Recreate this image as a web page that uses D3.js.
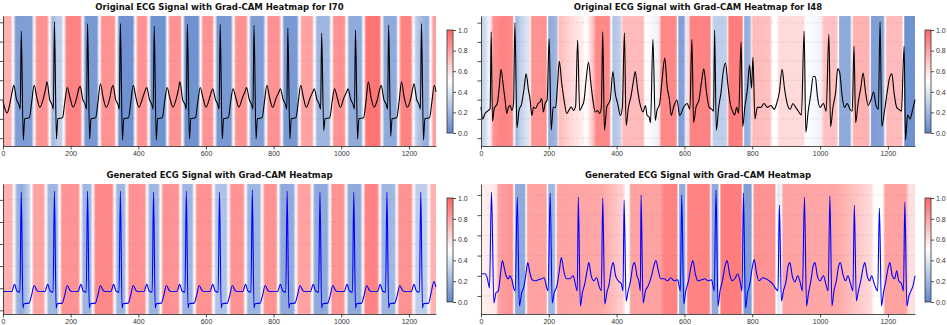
<!DOCTYPE html>
<html>
<head>
<meta charset="utf-8">
<script src="https://cdnjs.cloudflare.com/ajax/libs/d3/7.8.5/d3.min.js"></script>
<style>
body{margin:0;background:#fff;}
svg{display:block;font-family:"DejaVu Sans",sans-serif;}
.axis text{font-size:7px;fill:#333;}
.title{font-size:8.5px;font-weight:bold;fill:#111;}
</style>
</head>
<body>
<div id="chart"></div>
<script>
// titles and ticks
var titles = ['Original ECG Signal with Grad-CAM Heatmap for I70',
              'Original ECG Signal with Grad-CAM Heatmap for I48',
              'Generated ECG Signal with Grad-CAM Heatmap',
              'Generated ECG Signal with Grad-CAM Heatmap'];
var xTicks = [0,200,400,600,800,1000,1200];
var cbarTicks = [0,0.2,0.4,0.6,0.8,1.0];
var nSamples = 1280;

// ECG I70 original, [sample, mV]
var ecgI70 = [[0,-0.53],[6,-0.75],[12,-0.85],[20,-0.62],[27,-0.3],[32,-0.13],[40,-0.5],[47,-0.63],[51,-0.75],
[54,1.27],[60,-1.55],[64,-1.0],[78,-0.97],[85,-0.55],[92,-0.13],[100,-0.45],[109,-0.7],[120,-0.45],[126,-0.22],[130,-0.04],[138,-0.5],[145,-0.63],[149,-0.75],
[152,1.51],[158,-1.52],[162,-1.0],[176,-0.97],[183,-0.55],[190,-0.19],[198,-0.45],[207,-0.7],[218,-0.45],[224,-0.22],[228,-0.16],[236,-0.5],[243,-0.63],[247,-0.75],
[250,1.47],[256,-1.52],[260,-1.0],[274,-0.97],[281,-0.55],[288,-0.09],[296,-0.45],[305,-0.7],[316,-0.45],[321,-0.22],[325,-0.13],[333,-0.5],[340,-0.63],[344,-0.75],
[347,1.47],[353,-1.55],[357,-1.0],[371,-0.97],[378,-0.55],[385,-0.13],[393,-0.45],[402,-0.7],[413,-0.45],[421,-0.25],[425,-0.19],[433,-0.5],[440,-0.63],[444,-0.75],
[447,1.40],[453,-1.55],[457,-1.0],[471,-0.97],[478,-0.55],[485,-0.19],[493,-0.45],[502,-0.7],[513,-0.45],[519,-0.22],[523,-0.04],[531,-0.5],[538,-0.63],[542,-0.75],
[545,1.45],[551,-1.52],[555,-1.0],[569,-0.97],[576,-0.55],[583,-0.19],[591,-0.45],[600,-0.7],[611,-0.45],[616,-0.3],[620,-0.22],[628,-0.5],[635,-0.63],[639,-0.75],
[642,1.45],[648,-1.52],[652,-1.0],[666,-0.97],[673,-0.55],[680,-0.22],[688,-0.45],[697,-0.7],[708,-0.45],[716,-0.28],[720,-0.19],[728,-0.5],[735,-0.63],[739,-0.75],
[742,1.43],[748,-1.52],[752,-1.0],[766,-0.97],[773,-0.55],[780,-0.13],[788,-0.45],[797,-0.7],[808,-0.45],[816,-0.3],[820,-0.22],[828,-0.5],[835,-0.63],[839,-0.75],
[842,1.36],[848,-1.52],[852,-1.0],[866,-0.97],[873,-0.55],[880,-0.13],[888,-0.45],[897,-0.7],[908,-0.45],[916,-0.3],[920,-0.22],[928,-0.5],[935,-0.63],[939,-0.75],
[942,1.22],[948,-1.3],[952,-1.0],[966,-0.97],[973,-0.55],[980,-0.22],[988,-0.45],[997,-0.7],[1008,-0.45],[1016,-0.3],[1020,-0.22],[1028,-0.5],[1035,-0.63],[1039,-0.75],
[1042,1.30],[1048,-1.52],[1052,-1.0],[1066,-0.97],[1073,-0.55],[1080,-0.04],[1088,-0.45],[1097,-0.7],[1108,-0.45],[1114,-0.22],[1118,-0.13],[1126,-0.5],[1133,-0.63],[1137,-0.75],
[1140,1.43],[1146,-1.45],[1150,-1.0],[1164,-0.97],[1171,-0.55],[1178,-0.04],[1186,-0.45],[1195,-0.7],[1206,-0.45],[1211,-0.22],[1215,-0.09],[1223,-0.5],[1230,-0.63],[1234,-0.75],
[1237,1.47],[1243,-1.55],[1247,-1.0],[1261,-0.97],[1268,-0.55],[1275,-0.13],[1280,-0.3]];

// ECG I48 original
var ecgI48 = [[0,-0.69],[5,-1.0],[12,-0.86],[22,-0.78],[27,-0.73],[30,1.26],[34,-1.06],[39,-0.73],[48,-0.6],[54,-0.16],[59,0.29],[66,-0.16],[71,-0.51],[76,-0.86],[81,-0.69],[86,-0.65],[91,-0.78],[96,-0.6],
[100,1.5],[106,-1.23],[112,-0.78],[120,-0.6],[127,-0.21],[133,0.17],[140,-0.25],[145,-0.51],[150,-0.91],[155,-0.69],[161,-0.73],[168,-0.6],[174,-0.56],[179,-0.47],[184,-0.82],[189,-0.6],[195,-0.51],
[201,1.08],[207,-1.29],[213,-0.69],[220,-0.71],[226,-0.07],[231,0.5],[238,-0.07],[245,-0.51],[253,-0.86],[259,-0.78],[266,-0.69],[273,-0.78],[279,-0.67],
[285,1.05],[291,-0.78],[297,-0.69],[304,-0.51],[310,0.01],[317,0.47],[324,-0.07],[330,-0.51],[337,-0.82],[344,-0.78],[350,-0.86],[355,-0.69],
[359,1.27],[364,-1.3],[371,-0.69],[381,-0.51],[389,0.23],[396,-0.34],[403,-0.6],[411,-0.91],[417,-0.69],
[423,1.24],[428,-1.17],[435,-0.69],[442,-0.43],[450,0.01],[455,0.23],[462,-0.25],[470,-0.65],[478,-0.82],[485,-0.65],[490,-0.91],[496,-0.95],[500,-1.1],
[507,1.07],[514,-1.04],[519,-0.78],[527,-0.6],[534,0.01],[542,0.58],[549,-0.16],[556,-0.51],[561,-0.91],[568,-0.69],[578,-0.51],[586,-0.91],[598,-0.69],[608,-0.6],[616,-0.75],
[622,1.07],[627,-1.1],[634,-0.7],[643,-0.5],[651,0.0],[657,0.3],[665,-0.3],[673,-0.7],[681,-0.75],[686,-0.8],
[689,1.31],[694,-1.3],[701,-0.7],[708,-0.3],[714,0.2],[721,0.45],[728,-0.1],[735,-0.6],[742,-0.8],[748,-0.9],[754,-0.7],[760,-0.85],
[767,1.0],[772,-1.2],[778,-0.7],[786,-0.2],[792,0.4],[798,-0.2],[802,0.6],[808,-1.0],[815,-0.7],[825,-0.7],[835,-0.6],[845,-0.7],[855,-0.65],[865,-0.75],[872,-0.6],[880,-0.3],[888,0.29],[895,-0.2],[903,-0.6],[912,-0.75],[920,-0.6],[928,-0.7],[936,-0.8],[945,-0.9],
[953,1.28],[958,-1.35],[965,-0.8],[972,-0.4],[980,0.1],[986,0.1],[992,-0.4],[1000,-0.7],[1010,-0.6],[1018,-0.8],
[1026,1.2],[1031,-1.2],[1038,-0.7],[1046,-0.3],[1052,0.3],[1058,0.2],[1065,-0.4],[1072,-0.7],[1080,-0.6],[1088,-0.75],[1095,-0.8],
[1100,0.89],[1105,-1.1],[1112,-0.6],[1120,-0.2],[1127,0.19],[1134,-0.3],[1142,-0.65],[1150,-0.5],[1158,-0.3],[1164,-0.6],[1172,-0.75],
[1177,1.52],[1182,-1.2],[1190,-0.8],[1198,-0.3],[1206,0.1],[1212,0.17],[1218,-0.3],[1226,-0.7],[1232,-0.75],[1240,-0.8],
[1248,0.89],[1252,-1.55],[1258,-0.9],[1266,-1.0],[1272,-0.8],[1280,-0.5]];

// generated ECG (left), normalised
var genI70 = [[0,0.17],[26,0.17],[34,0.235],[41,0.175],[50,0.165],
[54,1.07],[59,0.02],[62,0.06],[77,0.065],[84,0.13],[92,0.225],[100,0.18],[106,0.17],[124,0.17],[132,0.235],[139,0.175],[148,0.165],
[152,1.08],[157,0.02],[160,0.06],[175,0.065],[182,0.13],[190,0.225],[198,0.18],[204,0.17],[222,0.17],[230,0.235],[237,0.175],[246,0.165],
[250,1.08],[255,0.02],[258,0.06],[273,0.065],[280,0.13],[288,0.225],[296,0.18],[302,0.17],[319,0.17],[327,0.235],[334,0.175],[343,0.165],
[347,1.08],[352,0.02],[355,0.06],[370,0.065],[377,0.13],[385,0.225],[393,0.18],[399,0.17],[417,0.17],[425,0.235],[432,0.175],[441,0.165],
[445,1.07],[450,0.02],[453,0.06],[468,0.065],[475,0.13],[483,0.225],[491,0.18],[497,0.17],[514,0.17],[522,0.235],[529,0.175],[538,0.165],
[542,1.08],[547,0.02],[550,0.06],[565,0.065],[572,0.13],[580,0.225],[588,0.18],[594,0.17],[612,0.17],[620,0.235],[627,0.175],[636,0.165],
[640,1.07],[645,0.02],[648,0.06],[663,0.065],[670,0.13],[678,0.225],[686,0.18],[692,0.17],[709,0.17],[717,0.235],[724,0.175],[733,0.165],
[737,1.09],[742,0.02],[745,0.06],[760,0.065],[767,0.13],[775,0.225],[783,0.18],[789,0.17],[812,0.17],[820,0.235],[827,0.175],[836,0.165],
[840,1.08],[845,0.02],[848,0.06],[863,0.065],[870,0.13],[878,0.225],[886,0.18],[892,0.17],[909,0.17],[917,0.235],[924,0.175],[933,0.165],
[937,1.07],[942,0.02],[945,0.06],[960,0.065],[967,0.13],[975,0.225],[983,0.18],[989,0.17],[1009,0.17],[1017,0.235],[1024,0.175],[1033,0.165],
[1037,1.07],[1042,0.02],[1045,0.06],[1060,0.065],[1067,0.13],[1075,0.225],[1083,0.18],[1089,0.17],[1107,0.17],[1115,0.235],[1122,0.175],[1131,0.165],
[1135,1.07],[1140,0.02],[1143,0.06],[1158,0.065],[1165,0.13],[1173,0.225],[1181,0.18],[1187,0.17],[1207,0.17],[1215,0.235],[1222,0.175],[1231,0.165],
[1235,1.07],[1240,0.02],[1243,0.06],[1258,0.065],[1265,0.15],[1274,0.26],[1280,0.21]];

// generated ECG (right)
var genI48 = [[0,0.22],[12,0.22],[19,0.17],[25,0.08],[31,1.03],[38,-0.07],[44,0.03],[51,0.05],[58,0.23],[63,0.35],[69,0.27],[74,0.2],[81,0.17],[85,0.2],[92,0.15],[97,0.07],[101,0.05],
[107,0.98],[113,-0.1],[120,0.03],[127,0.1],[133,0.23],[138,0.33],[144,0.23],[151,0.16],[159,0.15],[169,0.16],[179,0.17],[186,0.18],[194,0.08],[198,0.05],
[204,1.02],[210,-0.07],[216,0.03],[224,0.1],[231,0.25],[237,0.38],[244,0.25],[252,0.17],[262,0.17],[272,0.2],[278,0.12],[284,0.05],
[287,0.98],[293,-0.1],[299,0.03],[306,0.12],[313,0.25],[318,0.33],[325,0.2],[333,0.15],[341,0.18],[348,0.1],[355,0.05],
[359,0.97],[365,-0.08],[371,0.03],[378,0.12],[385,0.28],[390,0.33],[397,0.2],[405,0.15],[414,0.12],[419,0.05],
[422,0.95],[428,-0.05],[434,0.05],[441,0.15],[448,0.3],[453,0.33],[460,0.2],[466,0.14],[470,0.05],
[472,1.0],[478,-0.07],[485,0.05],[493,0.1],[503,0.2],[510,0.3],[516,0.35],[523,0.25],[530,0.17],[540,0.17],[550,0.15],[560,0.18],[570,0.15],[580,0.16],[588,0.05],
[592,1.0],[598,-0.08],[604,0.05],[612,0.15],[620,0.3],[625,0.35],[632,0.22],[640,0.15],[650,0.16],[660,0.17],[670,0.15],[680,0.16],[688,0.05],
[693,1.05],[699,-0.1],[705,0.05],[712,0.15],[720,0.3],[726,0.35],[733,0.22],[741,0.15],[750,0.18],[757,0.22],[764,0.15],[770,0.05],
[774,1.02],[780,-0.12],[786,0.03],[793,0.12],[800,0.28],[806,0.36],[813,0.22],[820,0.15],[830,0.18],[840,0.17],[850,0.15],[860,0.12],[868,0.08],[876,0.05],
[880,0.9],[886,-0.05],[892,0.05],[900,0.15],[906,0.3],[911,0.33],[918,0.2],[926,0.14],[934,0.2],[941,0.14],[948,0.05],
[954,0.98],[960,-0.1],[966,0.03],[973,0.15],[980,0.3],[985,0.33],[992,0.2],[1000,0.15],[1010,0.2],[1017,0.12],[1024,0.05],
[1029,0.99],[1035,-0.1],[1041,0.05],[1048,0.15],[1055,0.3],[1060,0.33],[1067,0.22],[1075,0.15],[1082,0.2],[1090,0.12],[1097,0.05],
[1101,0.9],[1107,-0.05],[1113,0.05],[1120,0.15],[1127,0.28],[1132,0.33],[1139,0.2],[1146,0.15],[1152,0.2],[1160,0.12],[1170,0.05],
[1175,0.87],[1181,-0.1],[1187,0.03],[1194,0.15],[1201,0.28],[1206,0.33],[1213,0.2],[1220,0.17],[1226,0.25],[1232,0.15],[1240,0.12],[1246,0.05],
[1250,0.93],[1256,-0.1],[1262,0.0],[1268,0.05],[1274,0.1],[1280,0.2]];

// Grad-CAM heat, [sample, value] gradient stops
var heatI70 = [[0,0.75],[22,0.75],[30,0.5],[38,0.1],[84,0.1],[92,0.5],[100,0.85],[130,0.85],[138,0.5],[146,0.2],[160,0.3],[172,0.3],[180,0.5],[188,0.9],[228,0.9],[236,0.5],[244,0.08],[277,0.08],[285,0.5],[293,0.85],[328,0.85],[336,0.5],[344,0.05],[383,0.05],[391,0.5],[399,0.85],[423,0.85],[431,0.5],[439,0.05],[478,0.05],[486,0.5],[494,0.85],[523,0.85],[531,0.5],[539,0.05],[576,0.05],[584,0.5],[592,0.85],[618,0.85],[626,0.5],[634,0.08],[673,0.08],[681,0.5],[689,0.85],[718,0.85],[726,0.5],[734,0.1],[769,0.1],[777,0.5],[785,0.85],[816,0.85],[824,0.5],[832,0.08],[868,0.08],[876,0.5],[884,0.8],[913,0.8],[921,0.5],[929,0.2],[963,0.2],[971,0.5],[979,0.85],[1008,0.85],[1016,0.5],[1024,0.15],[1058,0.15],[1066,0.5],[1074,0.95],[1112,0.95],[1120,0.5],[1128,0.15],[1161,0.15],[1169,0.5],[1177,0.9],[1205,0.9],[1213,0.5],[1221,0.3],[1240,0.2],[1256,0.15],[1264,0.5],[1272,0.8],[1280,0.8]];

var heatI48 = [[0,0.3],[12,0.35],[22,0.45],[30,0.6],[36,0.85],[60,0.9],[92,0.88],[98,0.5],[104,0.2],[115,0.3],[140,0.4],[146,0.6],[150,0.85],[192,0.85],[196,0.5],[200,0.15],[222,0.2],[228,0.6],[232,0.72],[255,0.65],[300,0.55],[312,0.5],[330,0.7],[340,0.88],[378,0.88],[384,0.5],[390,0.25],[410,0.3],[416,0.6],[420,0.72],[478,0.72],[484,0.5],[519,0.45],[526,0.6],[532,0.88],[575,0.88],[580,0.5],[584,0.1],[598,0.12],[603,0.4],[612,0.6],[618,0.9],[675,0.9],[680,0.5],[686,0.3],[722,0.3],[727,0.6],[732,0.92],[770,0.92],[774,0.5],[778,0.15],[793,0.2],[798,0.6],[803,0.72],[852,0.7],[860,0.5],[872,0.5],[880,0.62],[950,0.62],[958,0.5],[1000,0.45],[1006,0.6],[1012,0.7],[1048,0.7],[1054,0.5],[1058,0.15],[1088,0.15],[1094,0.5],[1099,0.75],[1143,0.75],[1148,0.5],[1152,0.1],[1186,0.12],[1192,0.5],[1197,0.72],[1240,0.72],[1246,0.5],[1250,0.05],[1280,0.05]];

var heatGenL = [[0,0.75],[25,0.75],[33,0.5],[41,0.2],[55,0.15],[76,0.3],[84,0.5],[92,0.8],[119,0.8],[127,0.5],[135,0.2],[159,0.2],[167,0.5],[175,0.85],[222,0.85],[230,0.5],[238,0.2],[258,0.2],[266,0.5],[274,0.88],[322,0.88],[330,0.5],[338,0.2],[358,0.2],[366,0.5],[374,0.85],[418,0.85],[426,0.5],[434,0.2],[458,0.2],[466,0.5],[474,0.85],[517,0.85],[525,0.5],[533,0.2],[558,0.2],[566,0.5],[574,0.85],[614,0.85],[622,0.5],[630,0.25],[659,0.25],[667,0.5],[675,0.85],[709,0.85],[717,0.5],[725,0.2],[758,0.2],[766,0.5],[774,0.85],[806,0.85],[814,0.5],[822,0.15],[858,0.15],[866,0.5],[874,0.8],[906,0.8],[914,0.5],[922,0.15],[958,0.15],[966,0.5],[974,0.85],[1006,0.85],[1014,0.5],[1022,0.15],[1056,0.15],[1064,0.5],[1072,0.9],[1106,0.9],[1114,0.5],[1122,0.2],[1156,0.2],[1164,0.5],[1172,0.85],[1206,0.85],[1214,0.5],[1222,0.3],[1251,0.3],[1259,0.5],[1267,0.75],[1280,0.75]];

var heatGenR = [[0,0.55],[45,0.58],[52,0.8],[92,0.85],[98,0.5],[102,0.15],[128,0.15],[133,0.5],[138,0.8],[192,0.8],[196,0.5],[200,0.2],[216,0.2],[221,0.5],[226,0.8],[360,0.78],[418,0.65],[428,0.5],[436,0.5],[442,0.8],[528,0.8],[540,0.9],[577,0.9],[582,0.5],[586,0.15],[600,0.15],[605,0.5],[610,0.9],[673,0.9],[678,0.5],[682,0.15],[698,0.15],[703,0.5],[708,0.92],[767,0.92],[772,0.5],[776,0.1],[796,0.1],[801,0.5],[806,0.85],[866,0.85],[871,0.5],[876,0.4],[886,0.45],[892,0.8],[1050,0.78],[1100,0.7],[1150,0.62],[1160,0.5],[1185,0.5],[1192,0.8],[1252,0.8],[1262,0.6],[1280,0.6]];

// layout
var panels = [
  {title:titles[0], ecg:ecgI70, heat:heatI70, stroke:'#000', step:0.5, box:[3,16,436,146], cb:[447,30,453,133]},
  {title:titles[1], ecg:ecgI48, heat:heatI48, stroke:'#000', step:0.5, box:[481,16,915,146], cb:[925,30,931,133]},
  {title:titles[2], ecg:genI70, heat:heatGenL, stroke:'#0000ff', step:0.2, box:[3,184,436,314], cb:[447,198,453,302]},
  {title:titles[3], ecg:genI48, heat:heatGenR, stroke:'#0000ff', step:0.2, box:[481,184,915,314], cb:[925,198,931,302]}
];

var cmap = d3.scaleLinear().domain([0,0.5,1]).range(['#5f86cc','#ffffff','#ff6464']);

var svg = d3.select('#chart').append('svg').attr('width',947).attr('height',325);
var defs = svg.append('defs');

// vertical gradient for colorbars
var cg = defs.append('linearGradient').attr('id','cbar').attr('x1',0).attr('x2',0).attr('y1',1).attr('y2',0);
d3.range(0,1.0001,0.1).forEach(function(t){
  cg.append('stop').attr('offset',t).attr('stop-color',cmap(t));
});

panels.forEach(function(p,i){
  var w = p.box[2]-p.box[0], h = p.box[3]-p.box[1];
  var g = svg.append('g').attr('transform','translate('+p.box[0]+','+p.box[1]+')');

  var x = d3.scaleLinear().domain([0,nSamples]).range([0,w]);
  var ext = d3.extent(p.ecg,function(d){return d[1];});
  var pad = (ext[1]-ext[0])*0.05;
  var y = d3.scaleLinear().domain([ext[0]-pad,ext[1]+pad]).range([h,0]);

  // heatmap background
  var grad = defs.append('linearGradient').attr('id','heat'+i)
      .attr('gradientUnits','userSpaceOnUse')
      .attr('x1',0).attr('x2',w).attr('y1',0).attr('y2',0);
  p.heat.forEach(function(d){
    grad.append('stop').attr('offset',x(d[0])/w).attr('stop-color',cmap(d[1]));
  });
  g.append('rect').attr('width',w).attr('height',h).attr('fill','url(#heat'+i+')');

  // y ticks (no labels) and faint grid
  var dom = y.domain();
  var yt = d3.range(Math.ceil(dom[0]/p.step)*p.step, dom[1]+1e-9, p.step);
  g.selectAll('.grid').data(yt).enter().append('line')
      .attr('x1',0).attr('x2',w)
      .attr('y1',function(d){return y(d);}).attr('y2',function(d){return y(d);})
      .attr('stroke','#888').attr('stroke-opacity',0.3)
      .attr('stroke-dasharray','3,2').attr('stroke-width',0.6);

  // signal
  var line = d3.line()
      .x(function(d){return x(d[0]);})
      .y(function(d){return y(d[1]);})
      .curve(d3.curveMonotoneX);
  g.append('path').datum(p.ecg).attr('d',line)
      .attr('fill','none').attr('stroke',p.stroke).attr('stroke-width',1.1)
      .attr('stroke-linejoin','round');

  // axes
  var ay = g.append('g').attr('class','axis')
      .call(d3.axisLeft(y).tickValues(yt).tickFormat('').tickSize(3.5).tickSizeOuter(0));
  var ax = g.append('g').attr('class','axis').attr('transform','translate(0,'+h+')')
      .call(d3.axisBottom(x).tickValues(xTicks).tickFormat(d3.format('d')).tickSize(3.5).tickSizeOuter(0).tickPadding(2));
  [ay,ax].forEach(function(a){
    a.select('.domain').attr('stroke','#222').attr('stroke-width',0.8);
    a.selectAll('.tick line').attr('stroke','#222').attr('stroke-width',0.8);
  });

  // title
  svg.append('text').attr('class','title')
      .attr('x',(p.box[0]+p.box[2])/2).attr('y',p.box[1]-6.5)
      .attr('text-anchor','middle').text(p.title);

  // colorbar
  var cw = p.cb[2]-p.cb[0], ch = p.cb[3]-p.cb[1];
  var cgp = svg.append('g').attr('transform','translate('+p.cb[0]+','+p.cb[1]+')');
  cgp.append('rect').attr('width',cw).attr('height',ch).attr('fill','url(#cbar)');
  var cy = d3.scaleLinear().domain([0,1]).range([ch,0]);
  var ca = cgp.append('g').attr('class','axis').attr('transform','translate('+cw+',0)')
      .call(d3.axisRight(cy).tickValues(cbarTicks).tickFormat(d3.format('.1f')).tickSize(3).tickSizeOuter(0).tickPadding(2));
  ca.select('.domain').remove();
  ca.selectAll('.tick line').attr('stroke','#222').attr('stroke-width',0.8);
  cgp.append('rect').attr('width',cw).attr('height',ch)
      .attr('fill','none').attr('stroke','#333').attr('stroke-width',0.8);
});
</script>
</body>
</html>
